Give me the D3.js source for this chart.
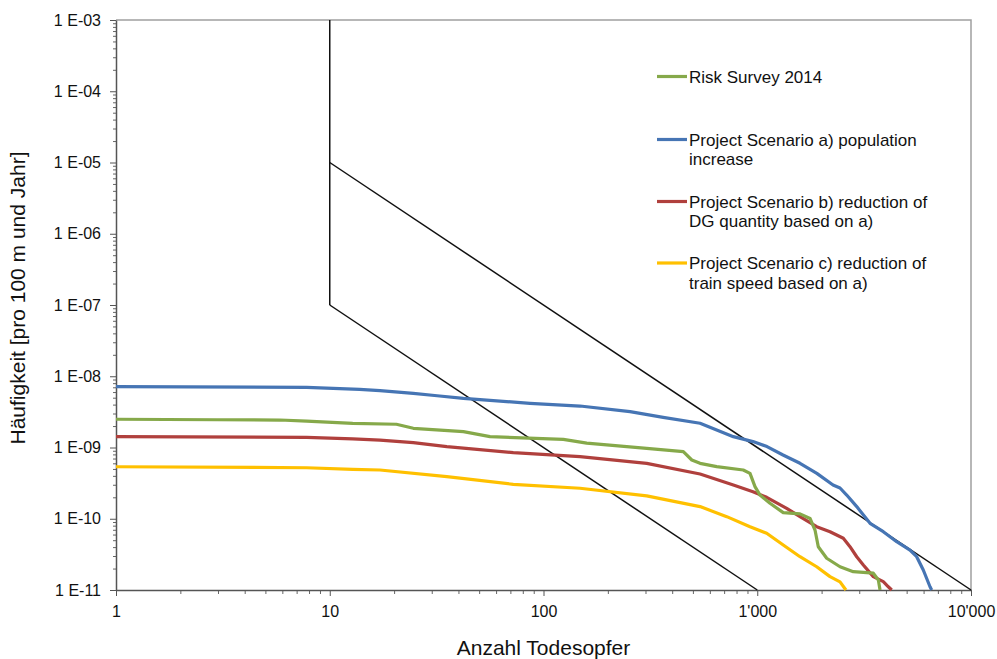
<!DOCTYPE html>
<html>
<head>
<meta charset="utf-8">
<script src="https://cdn.jsdelivr.net/npm/d3@7"></script>
<style>
  body { margin: 0; background: #fff; }
  svg { font-family: "Liberation Sans", Arial, sans-serif; }
</style>
</head>
<body>
<script>
// chart size and plot box
const w = 997
const h = 659
const plotLeft = 116
const plotRight = 971
const plotTop = 20
const plotBottom = 590

// series data (Anzahl Todesopfer / Häufigkeit)
const surveyX = [1, 2.97, 5.85, 7.8, 12.8, 20.5, 24.6, 42.2, 56.2, 123.8, 159.3, 304, 451, 494, 540, 646, 860, 925, 976, 1030, 1147, 1323, 1585, 1766, 1863, 1930, 2113, 2439, 2814, 3491, 3686, 3753]
const surveyY = [2.49e-9, 2.45e-9, 2.43e-9, 2.35e-9, 2.18e-9, 2.12e-9, 1.86e-9, 1.67e-9, 1.42e-9, 1.30e-9, 1.15e-9, 9.74e-10, 8.73e-10, 6.68e-10, 6.0e-10, 5.38e-10, 4.83e-10, 4.34e-10, 2.82e-10, 2.15e-10, 1.65e-10, 1.22e-10, 1.17e-10, 1.01e-10, 6.95e-11, 4.05e-11, 2.79e-11, 2.12e-11, 1.81e-11, 1.72e-11, 1.38e-11, 1e-11]

const scenAX = [1, 7.8, 13.8, 17.18, 24.6, 31.8, 42.2, 86.5, 148.2, 254, 363, 540, 773, 955, 1111, 1320, 1585, 1900, 2262, 2439, 2621, 2920, 3370, 3888, 4491, 5183, 5570, 5981, 6430, 6549]
const scenAY = [7.13e-9, 7.0e-9, 6.56e-9, 6.27e-9, 5.76e-9, 5.33e-9, 4.9e-9, 4.17e-9, 3.82e-9, 3.18e-9, 2.65e-9, 2.19e-9, 1.42e-9, 1.21e-9, 1.03e-9, 7.85e-10, 6.0e-10, 4.34e-10, 2.98e-10, 2.70e-10, 2.15e-10, 1.48e-10, 8.63e-11, 6.58e-11, 4.76e-11, 3.64e-11, 2.93e-11, 1.91e-11, 1.11e-11, 1e-11]

const scenBX = [1, 7.8, 12.8, 17.18, 24.6, 35.3, 72.2, 148.2, 304, 540, 773, 955, 1107, 1373, 1585, 1897, 2190, 2527, 2716, 2920, 3135, 3491, 3888, 4104, 4256]
const scenBY = [1.42e-9, 1.39e-9, 1.32e-9, 1.27e-9, 1.17e-9, 1.03e-9, 8.45e-10, 7.43e-10, 6.0e-10, 4.25e-10, 2.98e-10, 2.40e-10, 2.0e-10, 1.40e-10, 1.07e-10, 7.73e-11, 6.58e-11, 5.32e-11, 4.05e-11, 2.93e-11, 2.24e-11, 1.54e-11, 1.31e-11, 1.11e-11, 1e-11]

const scenCX = [1, 7.8, 12.8, 17.18, 35.3, 72.2, 148.2, 304, 540, 720, 925, 1107, 1323, 1585, 1897, 2190, 2439, 2600]
const scenCY = [5.37e-10, 5.2e-10, 4.94e-10, 4.83e-10, 3.89e-10, 3.04e-10, 2.68e-10, 2.09e-10, 1.48e-10, 1.07e-10, 7.73e-11, 6.25e-11, 4.28e-11, 2.93e-11, 2.12e-11, 1.54e-11, 1.3e-11, 1e-11]

// limit lines (black)
const limitVertical = [[10, 1e-3], [10, 1e-7]]
const limitUpper = [[10, 1e-5], [10000, 1e-11]]
const limitLower = [[10, 1e-7], [1000, 1e-11]]

// ticks
const xTicks = [1, 10, 100, 1000, 10000]
const xTickLabels = ["1", "10", "100", "1'000", "10'000"]
const yTicks = [1e-3, 1e-4, 1e-5, 1e-6, 1e-7, 1e-8, 1e-9, 1e-10, 1e-11]
const yTickLabels = ["1 E-03", "1 E-04", "1 E-05", "1 E-06", "1 E-07", "1 E-08", "1 E-09", "1 E-10", "1 E-11"]

const seriesNames = ["Risk Survey 2014", "Project Scenario a) population increase", "Project Scenario b) reduction of DG quantity based on a)", "Project Scenario c) reduction of train speed based on a)"]
const seriesColors = ["#86A94A", "#4675B4", "#B0403D", "#FFC000"]

const series = [
  { name: seriesNames[0], color: seriesColors[0], pts: d3.zip(surveyX, surveyY) },
  { name: seriesNames[1], color: seriesColors[1], pts: d3.zip(scenAX, scenAY) },
  { name: seriesNames[2], color: seriesColors[2], pts: d3.zip(scenBX, scenBY) },
  { name: seriesNames[3], color: seriesColors[3], pts: d3.zip(scenCX, scenCY) }
]

const svg = d3.select('body').append('svg')
  .attr('width', w)
  .attr('height', h)

const xScale = d3.scaleLog().domain([1, 10000]).range([plotLeft, plotRight])
const yScale = d3.scaleLog().domain([1e-11, 1e-3]).range([plotBottom, plotTop])

// plot border (top/right gray)
svg.append('path')
  .attr('d', `M${plotLeft},${plotTop}H${plotRight}V${plotBottom}`)
  .attr('fill', 'none')
  .attr('stroke', '#a0a0a0')
  .attr('stroke-width', 1.5)

// minor ticks
const xMinor = xScale.ticks().filter(t => !xTicks.includes(t))
const yMinor = yScale.ticks().filter(t => !yTicks.some(v => Math.abs(v - t) / v < 1e-6))

svg.append('g')
  .attr('transform', `translate(0,${plotBottom})`)
  .call(d3.axisBottom(xScale).tickValues(xMinor).tickSize(4).tickFormat(''))
  .call(g => g.select('.domain').remove())
  .selectAll('line').attr('stroke', '#666')

svg.append('g')
  .attr('transform', `translate(${plotLeft},0)`)
  .call(d3.axisLeft(yScale).tickValues(yMinor).tickSize(3).tickFormat(''))
  .call(g => g.select('.domain').remove())
  .selectAll('line').attr('stroke', '#666')

// major axes
const xAxis = svg.append('g')
  .attr('transform', `translate(0,${plotBottom})`)
  .call(d3.axisBottom(xScale).tickValues(xTicks).tickSize(6).tickSizeOuter(0)
    .tickFormat((d, i) => xTickLabels[i]))
xAxis.select('.domain').attr('stroke', '#555').attr('stroke-width', 1.5)
xAxis.selectAll('line').attr('stroke', '#555')
xAxis.selectAll('text').attr('font-size', 16).attr('fill', '#111').attr('dy', '1.1em')

const yAxis = svg.append('g')
  .attr('transform', `translate(${plotLeft},0)`)
  .call(d3.axisLeft(yScale).tickValues(yTicks).tickSize(6).tickSizeOuter(0)
    .tickFormat((d, i) => yTickLabels[i]))
yAxis.select('.domain').attr('stroke', '#555').attr('stroke-width', 1.5)
yAxis.selectAll('line').attr('stroke', '#555')
yAxis.selectAll('text').attr('font-size', 16).attr('fill', '#111').attr('x', -15)

// limit lines
const line = d3.line().x(d => xScale(d[0])).y(d => yScale(d[1]))
;[limitVertical, limitUpper, limitLower].forEach(pts => {
  svg.append('path')
    .attr('d', line(pts))
    .attr('fill', 'none')
    .attr('stroke', '#111')
    .attr('stroke-width', 1.5)
})

// series curves (draw order: yellow, red, green, blue)
;[3, 2, 0, 1].forEach(i => {
  svg.append('path')
    .attr('d', line(series[i].pts))
    .attr('fill', 'none')
    .attr('stroke', series[i].color)
    .attr('stroke-width', 3.2)
    .attr('stroke-linejoin', 'round')
})

// legend
const legendRows = [
  { y: 76.5, lines: ["Risk Survey 2014"] },
  { y: 139.5, lines: ["Project Scenario a) population", "increase"] },
  { y: 201.5, lines: ["Project Scenario b) reduction of", "DG quantity based on a)"] },
  { y: 263, lines: ["Project Scenario c) reduction of", "train speed based on a)"] }
]
legendRows.forEach((r, i) => {
  svg.append('line')
    .attr('x1', 657).attr('x2', 687)
    .attr('y1', r.y).attr('y2', r.y)
    .attr('stroke', series[i].color)
    .attr('stroke-width', 3.2)
  r.lines.forEach((t, j) => {
    svg.append('text')
      .attr('x', 689)
      .attr('y', r.y + j * 19.5 + 6)
      .attr('font-size', 17)
      .attr('fill', '#111')
      .text(t)
  })
})

// axis titles
svg.append('text')
  .attr('x', (plotLeft + plotRight) / 2)
  .attr('y', 655)
  .attr('text-anchor', 'middle')
  .attr('font-size', 21)
  .attr('fill', '#111')
  .text('Anzahl Todesopfer')

svg.append('text')
  .attr('transform', 'translate(25,298) rotate(-90)')
  .attr('text-anchor', 'middle')
  .attr('font-size', 21)
  .attr('fill', '#111')
  .text('Häufigkeit [pro 100 m und Jahr]')
</script>
</body>
</html>
